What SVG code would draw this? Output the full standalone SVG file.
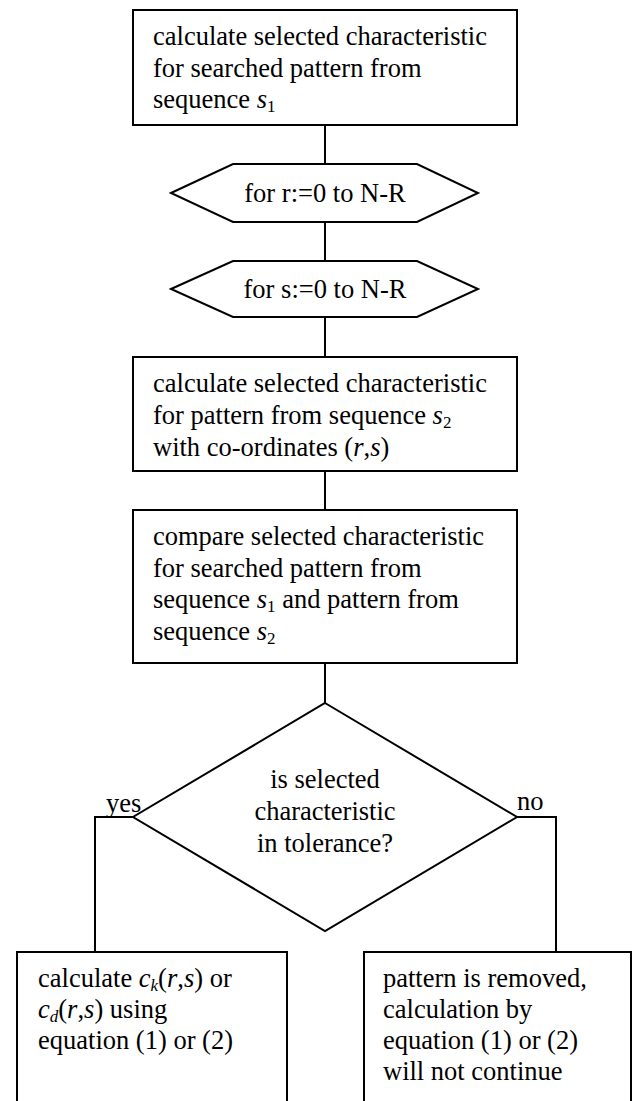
<svg xmlns="http://www.w3.org/2000/svg" width="632" height="1101" viewBox="0 0 632 1101">
<style>
.shape{fill:#fff;stroke:#000;stroke-width:2}
.conn{fill:none;stroke:#000;stroke-width:2}
text{font-family:"Liberation Serif","Times New Roman",serif;font-size:26.5px;fill:#000}
.c{text-anchor:middle}
.i{font-style:italic}
.sub{font-size:17px}
</style>
<rect width="632" height="1101" fill="#fff"/>
<g id="connectors">
<line class="conn" x1="325" y1="125" x2="325" y2="164"/>
<line class="conn" x1="325" y1="222" x2="325" y2="261"/>
<line class="conn" x1="325" y1="317" x2="325" y2="357"/>
<line class="conn" x1="325" y1="471" x2="325" y2="510"/>
<line class="conn" x1="325" y1="663" x2="325" y2="703"/>
<polyline class="conn" points="133,817 95,817 95,952"/>
<polyline class="conn" points="517,817 556,817 556,952"/>
<text x="106" y="812">yes</text>
<text x="517" y="810">no</text>
</g>
<g id="box1">
<rect class="shape" x="133" y="10" width="384" height="115"/>
<text x="153" y="45">calculate selected characteristic</text>
<text x="153" y="76.5">for searched pattern from</text>
<text x="153" y="108">sequence <tspan class="i">s</tspan><tspan class="sub" dy="4">1</tspan></text>
</g>
<g id="loop-r">
<polygon class="shape" points="171,193 233,164 417,164 478,193 417,222 233,222"/>
<text class="c" x="325" y="202">for r:=0 to N-R</text>
</g>
<g id="loop-s">
<polygon class="shape" points="171,289 233,261 417,261 478,289 417,317 233,317"/>
<text class="c" x="325" y="298">for s:=0 to N-R</text>
</g>
<g id="box2">
<rect class="shape" x="133" y="357" width="384" height="114"/>
<text x="153" y="392">calculate selected characteristic</text>
<text x="153" y="424">for pattern from sequence <tspan class="i">s</tspan><tspan class="sub" dy="4">2</tspan></text>
<text x="153" y="456">with co-ordinates (<tspan class="i">r</tspan>,<tspan class="i">s</tspan>)</text>
</g>
<g id="box3">
<rect class="shape" x="133" y="510" width="384" height="153"/>
<text x="153" y="545">compare selected characteristic</text>
<text x="153" y="577">for searched pattern from</text>
<text x="153" y="608">sequence <tspan class="i">s</tspan><tspan class="sub" dy="4">1</tspan><tspan dy="-4"> and pattern from</tspan></text>
<text x="153" y="640">sequence <tspan class="i">s</tspan><tspan class="sub" dy="4">2</tspan></text>
</g>
<g id="decision">
<polygon class="shape" points="325,703 517,817 325,931 133,817"/>
<text class="c" x="325" y="788">is selected</text>
<text class="c" x="325" y="820">characteristic</text>
<text class="c" x="325" y="852">in tolerance?</text>
</g>
<g id="box-yes">
<rect class="shape" x="17" y="952" width="270" height="160"/>
<text x="38" y="987">calculate <tspan class="i">c</tspan><tspan class="sub i" dy="4">k</tspan><tspan dy="-4">(</tspan><tspan class="i">r</tspan>,<tspan class="i">s</tspan>) or</text>
<text x="38" y="1018"><tspan class="i">c</tspan><tspan class="sub i" dy="4">d</tspan><tspan dy="-4">(</tspan><tspan class="i">r</tspan>,<tspan class="i">s</tspan>) using</text>
<text x="38" y="1049">equation (1) or (2)</text>
</g>
<g id="box-no">
<rect class="shape" x="364" y="952" width="267" height="160"/>
<text x="383" y="987">pattern is removed,</text>
<text x="383" y="1018">calculation by</text>
<text x="383" y="1049">equation (1) or (2)</text>
<text x="383" y="1080">will not continue</text>
</g>
</svg>
